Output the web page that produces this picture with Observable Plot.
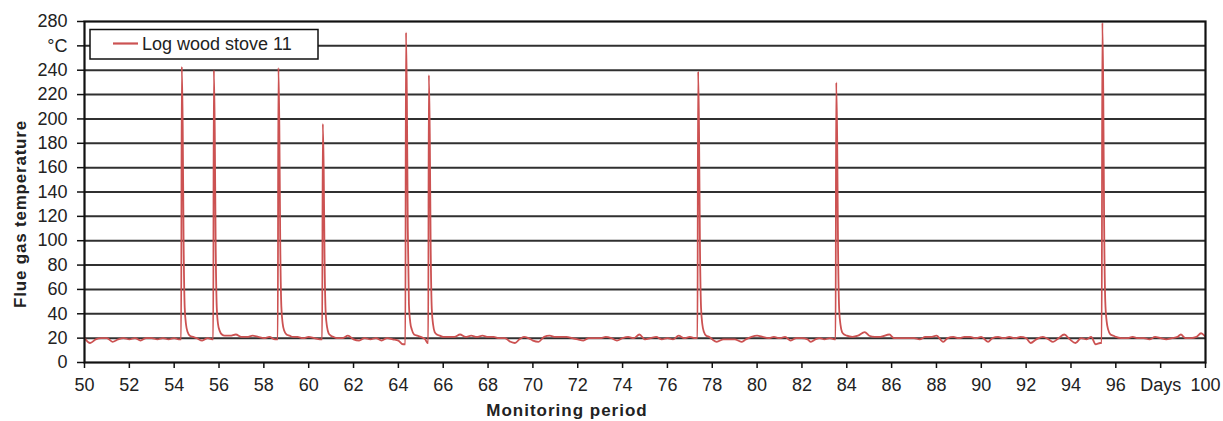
<!DOCTYPE html>
<html><head><meta charset="utf-8">
<script src="https://cdn.jsdelivr.net/npm/d3@7"></script>
<script src="https://cdn.jsdelivr.net/npm/@observablehq/plot@0.6"></script>
<style>body{margin:0;background:#fff} svg{display:block}</style>
</head><body><div id="chart"></div>
<script>
const seriesName = "Log wood stove 11";
const yTitle = "Flue gas temperature";
const xTitle = "Monitoring period";
const yTicks = [0,20,40,60,80,100,120,140,160,180,200,220,240,260,280];
const xTicks = [50,52,54,56,58,60,62,64,66,68,70,72,74,76,78,80,82,84,86,88,90,92,94,96,98,100];
const yUnitTick = 260, yUnitLabel = "°C";
const xUnitTick = 98, xUnitLabel = "Days";

// [day, °C]
const readings = [
 [50.0,20],[50.25,16],[50.5,19],[50.75,20],[51.0,20],[51.25,17],[51.5,19],[51.75,20],[52.0,19],[52.25,20],[52.5,18],[52.75,20],
 [53.0,20],[53.25,19],[53.5,20],[53.75,19],[54.0,20],[54.2,19],
 [54.31,19],[54.34,243],[54.38,195],[54.42,100],[54.47,45],[54.53,31],[54.6,25],[54.7,22],[54.85,21],[55.0,20],[55.25,18],[55.5,20],[55.7,19],
 [55.74,19],[55.77,240],[55.81,190],[55.85,98],[55.90,45],[55.96,31],[56.03,26],[56.13,23],[56.25,22],[56.5,22],[56.75,23],[57.0,21],[57.25,21],
 [57.5,22],[57.75,21],[58.0,20],[58.25,21],[58.5,19],
 [58.62,19],[58.65,242],[58.69,195],[58.73,100],[58.78,46],[58.84,32],[58.91,26],[59.01,23],[59.15,22],[59.3,21],[59.5,21],[59.75,20],[60.0,21],[60.25,20],[60.5,19],
 [60.6,19],[60.63,196],[60.67,158],[60.71,82],[60.76,40],[60.82,29],[60.89,24],[60.99,22],[61.1,21],[61.25,20],[61.5,20],[61.75,22],[62.0,19],
 [62.25,18],[62.5,20],[62.75,19],[63.0,20],[63.25,18],[63.5,20],[63.75,19],[64.0,18],[64.2,15],
 [64.31,15],[64.34,271],[64.38,215],[64.42,110],[64.47,48],[64.53,33],[64.6,27],[64.7,23],[64.85,22],[65.0,21],[65.2,19],[65.3,16],
 [65.33,16],[65.36,236],[65.40,188],[65.44,96],[65.49,44],[65.55,31],[65.62,25],[65.72,23],[65.85,22],[66.0,21],[66.25,21],[66.5,21],[66.75,23],
 [67.0,21],[67.25,22],[67.5,21],[67.75,22],[68.0,21],[68.25,21],[68.5,20],[68.75,20],[69.0,17],[69.2,16],[69.4,19],[69.6,21],[69.8,20],
 [70.0,18],[70.25,17],[70.5,21],[70.75,22],[71.0,21],[71.25,21],[71.5,21],[71.75,20],[72.0,19],[72.25,18],[72.5,20],[72.75,20],
 [73.0,20],[73.25,21],[73.5,20],[73.75,18],[74.0,20],[74.25,21],[74.5,20],[74.75,23],[75.0,19],[75.25,20],[75.5,21],[75.75,19],
 [76.0,20],[76.25,19],[76.5,22],[76.75,20],[77.0,21],[77.25,20],
 [77.34,20],[77.37,239],[77.41,190],[77.45,98],[77.50,45],[77.56,31],[77.63,25],[77.73,22],[77.87,21],[78.0,19],[78.2,17],[78.5,19],[78.75,19],
 [79.0,19],[79.3,17],[79.5,19],[79.75,21],[80.0,22],[80.25,21],[80.5,20],[80.75,21],[81.0,20],[81.25,21],[81.5,18],[81.75,20],
 [82.0,20],[82.25,19],[82.4,17],[82.6,19],[82.8,20],[83.0,19],[83.25,20],[83.45,19],
 [83.5,19],[83.53,230],[83.57,186],[83.61,95],[83.66,44],[83.72,31],[83.79,25],[83.89,23],[84.0,22],[84.25,21],[84.5,22],[84.8,25],[85.0,22],
 [85.25,21],[85.5,21],[85.9,23],[86.1,20],[86.5,20],[86.75,20],[87.0,20],[87.25,19],[87.5,21],[87.75,21],[88.0,22],[88.3,17],
 [88.5,20],[88.75,21],[89.0,20],[89.25,21],[89.5,21],[89.75,20],[90.0,21],[90.3,17],[90.5,20],[90.75,21],[91.0,20],[91.25,21],
 [91.5,20],[91.75,21],[92.0,20],[92.2,16],[92.45,19],[92.75,21],[93.0,19],[93.2,17],[93.45,20],[93.7,23],[93.95,19],[94.2,16],
 [94.45,20],[94.7,19],[94.9,21],[95.1,15],[95.3,16],
 [95.37,16],[95.40,279],[95.44,222],[95.48,112],[95.53,50],[95.59,34],[95.66,27],[95.76,23],[95.9,22],[96.0,21],[96.25,20],[96.5,20],[96.75,21],
 [97.0,20],[97.25,20],[97.5,19],[97.75,21],[98.0,20],[98.25,19],[98.5,20],[98.75,21],[98.9,23],[99.1,20],[99.35,20],[99.6,21],
 [99.8,24],[100.0,21]
];
const data = readings.map(([day, temp]) => ({day, temp}));

const lineColor = "#cc5252";
const chart = Plot.plot({
  width: 1223, height: 421,
  marginLeft: 84, marginRight: 18, marginTop: 21, marginBottom: 59,
  style: {fontFamily: "'Liberation Sans', Arial, sans-serif", fontSize: "18px", color: "#222", background: "white"},
  x: {domain: [50, 100]},
  y: {domain: [0, 280]},
  marks: [
    Plot.gridY(yTicks.filter(t => t > 0 && t < 280), {stroke: "#303030", strokeWidth: 2, strokeOpacity: 1}),
    Plot.line(data, {x: "day", y: "temp", stroke: lineColor, strokeWidth: 1.8, curve: "monotone-x", clip: true}),
    Plot.frame({stroke: "#111", strokeWidth: 2.2}),
    Plot.axisY({ticks: yTicks, tickSize: 7, tickPadding: 10, strokeWidth: 1.5, stroke: "#111",
      tickFormat: d => d === yUnitTick ? yUnitLabel : d, label: null}),
    Plot.axisX({ticks: xTicks, tickSize: 6, tickPadding: 10, strokeWidth: 1.5, stroke: "#111",
      tickFormat: d => d === xUnitTick ? xUnitLabel : d, label: null})
  ]
});
document.getElementById("chart").appendChild(chart);

const svg = d3.select(chart);
const font = "'Liberation Sans', Arial, sans-serif";
svg.append("text").attr("transform", "translate(26,214) rotate(-90)")
  .attr("text-anchor", "middle").attr("font-family", font).attr("font-size", 17)
  .attr("font-weight", "bold").attr("letter-spacing", "0.8px").attr("fill", "#222").text(yTitle);
svg.append("text").attr("x", 567).attr("y", 416)
  .attr("text-anchor", "middle").attr("font-family", font).attr("font-size", 17)
  .attr("font-weight", "bold").attr("letter-spacing", "1px").attr("fill", "#222").text(xTitle);

const lg = svg.append("g");
lg.append("rect").attr("x", 90).attr("y", 29.5).attr("width", 228).attr("height", 29.5)
  .attr("fill", "white").attr("stroke", "#111").attr("stroke-width", 1.5);
lg.append("line").attr("x1", 113).attr("x2", 138).attr("y1", 43.5).attr("y2", 43.5)
  .attr("stroke", lineColor).attr("stroke-width", 2.2);
lg.append("text").attr("x", 142).attr("y", 44).attr("dy", "0.35em").attr("text-anchor", "start")
  .attr("font-family", font).attr("font-size", 18).attr("fill", "#222").text(seriesName);
</script></body></html>
